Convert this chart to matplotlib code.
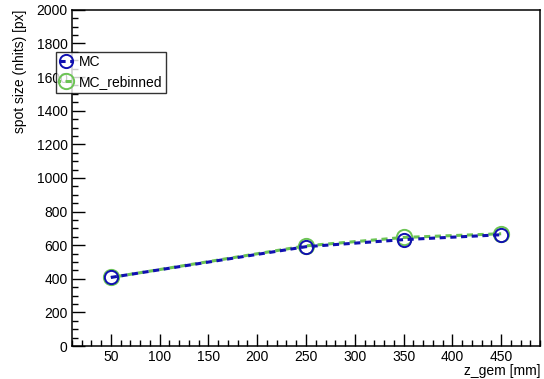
import matplotlib
matplotlib.use("Agg")
import matplotlib.pyplot as plt
from matplotlib.ticker import MultipleLocator

z_gem = [50, 250, 350, 450]
mc = [408, 591, 633, 662]
mc_rebinned = [408, 596, 646, 668]

plt.rcParams['font.family'] = ['Liberation Sans', 'DejaVu Sans']

fig = plt.figure(figsize=(5.44, 3.79), dpi=100)
ax = fig.add_axes([0.132, 0.087, 0.861, 0.887])

ax.plot(z_gem, mc, color='#1010b0', ls=(0, (2, 1.5)), lw=2.2,
        marker='o', ms=9.5, mfc='none', mew=1.4, label='MC', zorder=3)
ax.plot(z_gem, mc_rebinned, color='#6cc454', ls=(1.5, (2, 1.5)), lw=2.2,
        marker='o', ms=11, mfc='none', mew=1.4, label='MC_rebinned', zorder=2)

ax.set_xlim(10, 490)
ax.set_ylim(0, 2000)
ax.xaxis.set_major_locator(MultipleLocator(50))
ax.xaxis.set_minor_locator(MultipleLocator(10))
ax.yaxis.set_major_locator(MultipleLocator(200))
ax.yaxis.set_minor_locator(MultipleLocator(50))
ax.set_xticks([50, 100, 150, 200, 250, 300, 350, 400, 450])
ax.tick_params(which='both', direction='in', top=False, right=False,
               labelsize=10, color='black', width=1)
ax.tick_params(which='major', length=9)
ax.tick_params(which='minor', length=4.5)
ax.tick_params(axis='x', pad=3)
ax.tick_params(axis='y', pad=3)
for s in ax.spines.values():
    s.set_linewidth(1.1)

ax.set_xlabel('z_gem [mm]', fontsize=10, loc='right', labelpad=0)
ax.set_ylabel('spot size (nhits) [px]', fontsize=10, loc='top', labelpad=7)

leg = ax.legend(loc='upper left', bbox_to_anchor=(-0.034, 0.876), fontsize=10,
                frameon=True, fancybox=False, edgecolor='black',
                handlelength=1.0, handletextpad=0.4, borderpad=0.25,
                labelspacing=0.45, borderaxespad=0)
leg.get_frame().set_linewidth(1.0)

fig.savefig('out.png', dpi=100)
